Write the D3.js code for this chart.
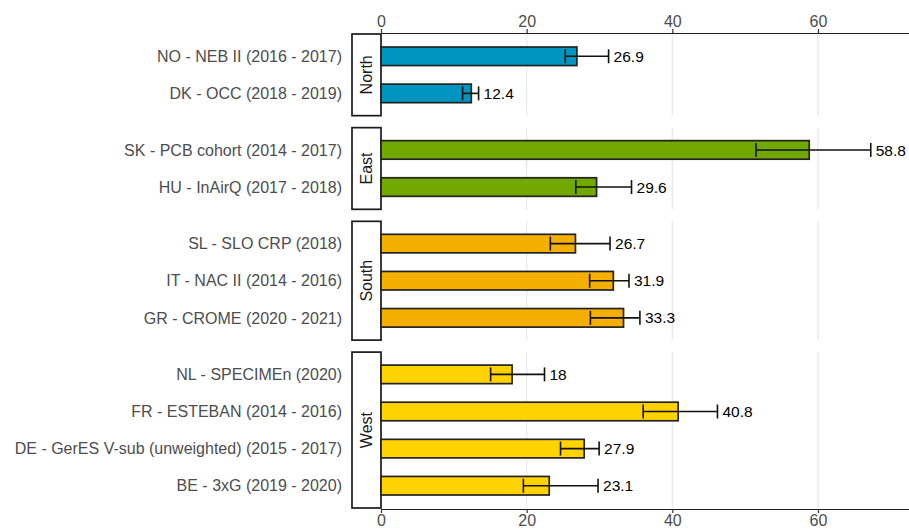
<!DOCTYPE html>
<html><head><meta charset="utf-8">
<script src="https://cdn.jsdelivr.net/npm/d3@7"></script>
<style>body{margin:0;background:#fff}svg{display:block}text{font-family:"Liberation Sans",Arial,sans-serif}</style>
</head><body><svg id="c" width="909" height="530"></svg>
<script>
const regions = ["North","East","South","West"];
const regionColors = ["#0095c0","#72a900","#f5af00","#ffd300"];
const studies = ["NO - NEB II (2016 - 2017)","DK - OCC (2018 - 2019)",
  "SK - PCB cohort (2014 - 2017)","HU - InAirQ (2017 - 2018)",
  "SL - SLO CRP (2018)","IT - NAC II (2014 - 2016)","GR - CROME (2020 - 2021)",
  "NL - SPECIMEn (2020)","FR - ESTEBAN (2014 - 2016)","DE - GerES V-sub (unweighted) (2015 - 2017)","BE - 3xG (2019 - 2020)"];
const studyRegion = ["North","North","East","East","South","South","South","West","West","West","West"];
const values = [26.9,12.4,58.8,29.6,26.7,31.9,33.3,18,40.8,27.9,23.1];
const lower  = [25.3,11.2,51.5,26.75,23.25,28.65,28.75,15.05,36.0,24.65,19.55];
const upper  = [31.25,13.4,67.25,34.4,31.45,34.05,35.55,22.45,46.2,29.95,29.8];
const xTicks = [0,20,40,60];

const FONT = "Liberation Sans, Arial, sans-serif";
const svg = d3.select("#c");
const top0 = 34, bottom0 = 508, gap = 12, stripW = 29;
const x = d3.scaleLinear().domain([0,72.5]).range([381,909]);
const data = studies.map((s,i)=>({s,r:studyRegion[i],v:values[i],lo:lower[i],hi:upper[i]}));
const counts = regions.map(r=>data.filter(d=>d.r===r).length);
const totalUnits = d3.sum(counts,c=>c-1+1.2);
const unit = (bottom0-top0-gap*(regions.length-1))/totalUnits;
const color = d3.scaleOrdinal().domain(regions).range(regionColors);

let yPos = top0;
const grid = svg.append("g"), strips = svg.append("g"), marks = svg.append("g");
regions.forEach((r,ri)=>{
  const rows = data.filter(d=>d.r===r);
  const h = (rows.length-1+1.2)*unit;
  const y = d3.scalePoint().domain(rows.map(d=>d.s)).range([yPos+0.6*unit, yPos+h-0.6*unit]);
  grid.selectAll(null).data(xTicks).enter().append("line")
    .attr("x1",d=>x(d)).attr("x2",d=>x(d)).attr("y1",yPos).attr("y2",yPos+h)
    .attr("stroke","#ebebeb").attr("stroke-width",1.5);
  strips.append("rect").attr("x",x(0)-stripW).attr("y",yPos).attr("width",stripW).attr("height",h)
    .attr("fill","#fff").attr("stroke","#1a1a1a").attr("stroke-width",1.7);
  strips.append("text").attr("transform",`translate(${x(0)-stripW/2+5.5},${yPos+h/2}) rotate(-90)`)
    .attr("font-family",FONT).attr("text-anchor","middle").attr("font-size",16).attr("fill","#1a1a1a").text(r);
  marks.selectAll(null).data(rows).enter().append("text")
    .attr("x",342).attr("y",d=>y(d.s)).attr("dy","0.36em").attr("text-anchor","end")
    .attr("font-family",FONT).attr("font-size",16).attr("fill","#4d4d4d").text(d=>d.s);
  const bh = unit*0.5;
  marks.selectAll(null).data(rows).enter().append("rect")
    .attr("x",x(0)).attr("y",d=>y(d.s)-bh/2).attr("width",d=>x(d.v)-x(0)).attr("height",bh)
    .attr("fill",color(r)).attr("stroke","#222").attr("stroke-width",1.7);
  const eg = marks.selectAll(null).data(rows).enter().append("g").attr("stroke","#111").attr("stroke-width",1.6);
  eg.append("line").attr("x1",d=>x(d.lo)).attr("x2",d=>x(d.hi)).attr("y1",d=>y(d.s)).attr("y2",d=>y(d.s));
  eg.append("line").attr("x1",d=>x(d.lo)).attr("x2",d=>x(d.lo)).attr("y1",d=>y(d.s)-7).attr("y2",d=>y(d.s)+7);
  eg.append("line").attr("x1",d=>x(d.hi)).attr("x2",d=>x(d.hi)).attr("y1",d=>y(d.s)-7).attr("y2",d=>y(d.s)+7);
  marks.selectAll(null).data(rows).enter().append("text")
    .attr("x",d=>x(d.hi)+5).attr("y",d=>y(d.s)).attr("dy","0.36em")
    .attr("font-family",FONT).attr("font-size",15.5).attr("fill","#000").text(d=>d3.format("")(d.v));
  yPos += h + gap;
});

function styleAxis(g){
  g.attr("font-family",FONT);
  g.select(".domain").attr("stroke","#1a1a1a").attr("stroke-width",1.2);
  g.selectAll(".tick line").attr("stroke","#333").attr("stroke-width",1.2);
  g.selectAll(".tick text").attr("fill","#4d4d4d").attr("font-size",16).attr("font-family",FONT);
}
svg.append("g").attr("transform",`translate(0,${top0-1})`)
  .call(d3.axisTop(x).tickValues(xTicks).tickSize(4).tickSizeOuter(0).tickPadding(2)).call(styleAxis);
svg.append("g").attr("transform",`translate(0,${bottom0+1})`)
  .call(d3.axisBottom(x).tickValues(xTicks).tickSize(4).tickSizeOuter(0).tickPadding(2)).call(styleAxis);
</script></body></html>
